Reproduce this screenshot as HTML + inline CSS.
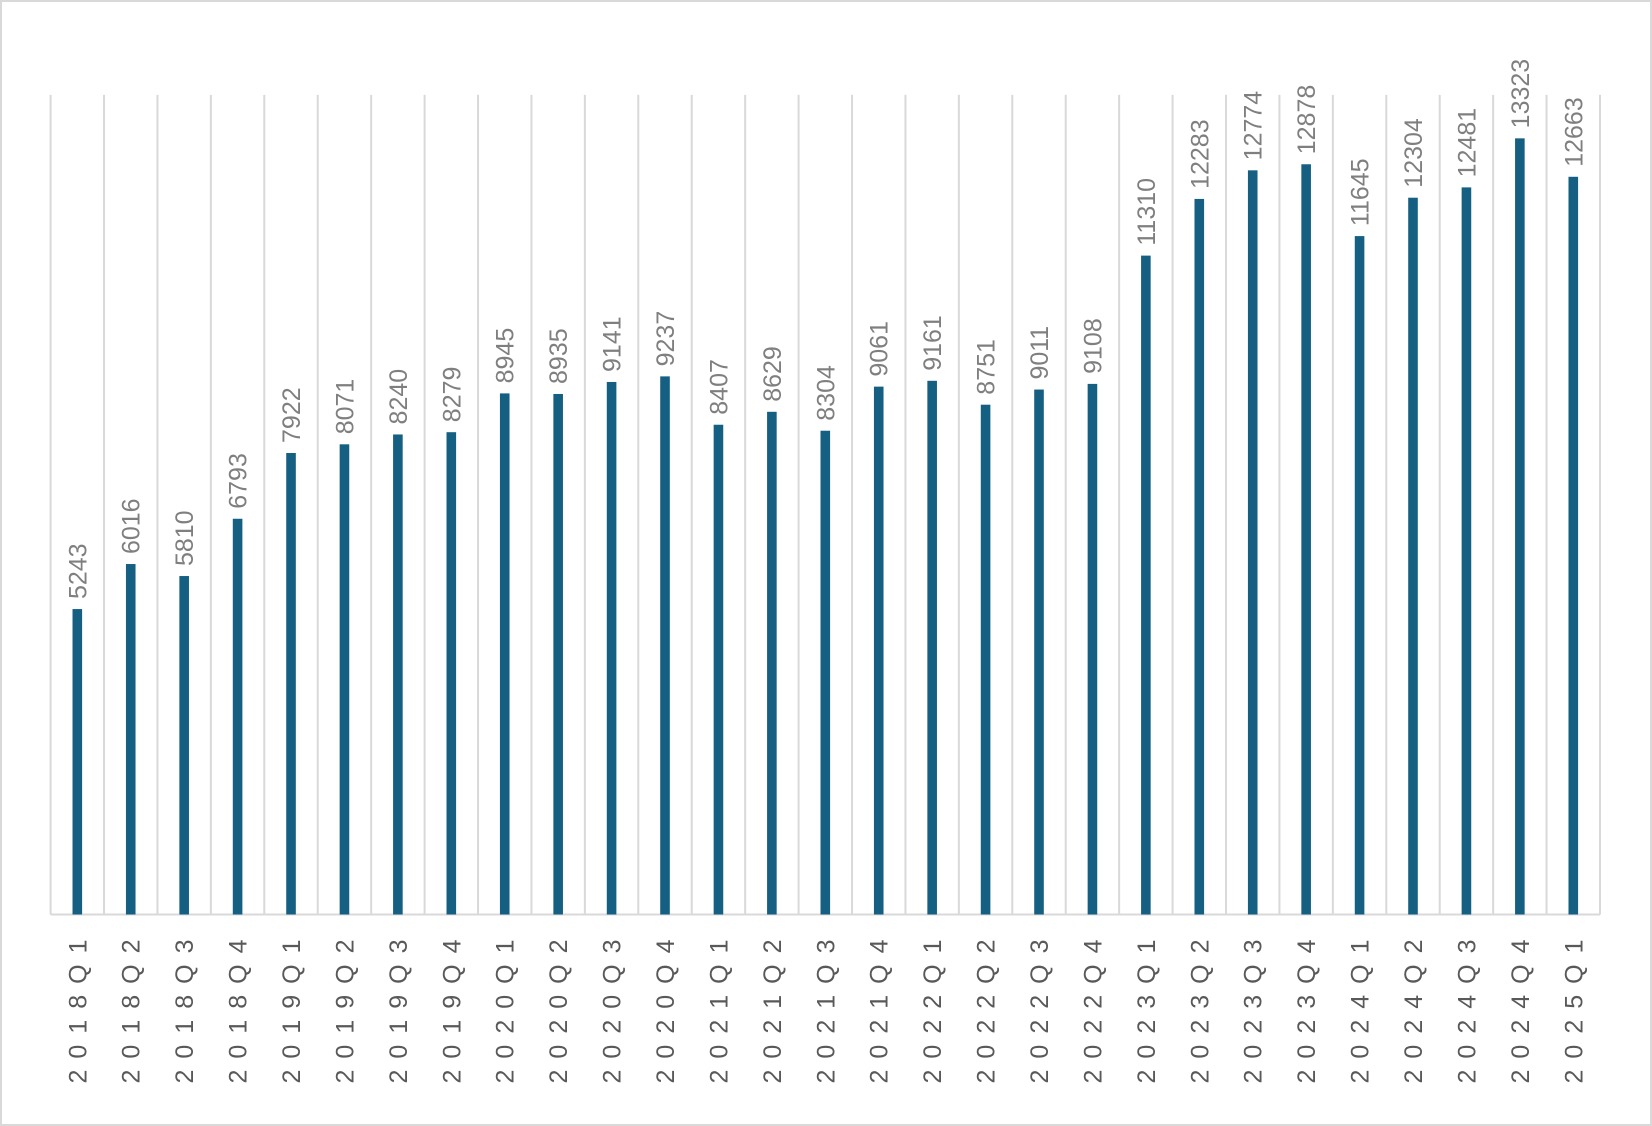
<!DOCTYPE html>
<html><head><meta charset="utf-8"><style>
html,body{margin:0;padding:0;background:#fff;}
svg{display:block;font-family:"Liberation Sans",sans-serif;}
</style></head><body>
<svg id="chart" width="1652" height="1126" viewBox="0 0 1652 1126">
<rect x="1" y="1" width="1650" height="1124" fill="#fff" stroke="#d9d9d9" stroke-width="2"/>
<g id="grid"></g><g id="bars"></g><g id="labels"></g><g id="cats"></g>
</svg>
<script>
const categories=["2018Q1","2018Q2","2018Q3","2018Q4","2019Q1","2019Q2","2019Q3","2019Q4","2020Q1","2020Q2","2020Q3","2020Q4","2021Q1","2021Q2","2021Q3","2021Q4","2022Q1","2022Q2","2022Q3","2022Q4","2023Q1","2023Q2","2023Q3","2023Q4","2024Q1","2024Q2","2024Q3","2024Q4","2025Q1"];
const values=[5243,6016,5810,6793,7922,8071,8240,8279,8945,8935,9141,9237,8407,8629,8304,9061,9161,8751,9011,9108,11310,12283,12774,12878,11645,12304,12481,13323,12663];
const yMax=14000;
const L=50.6,R=1600,B=914.5,T=98.9;
const ns="http://www.w3.org/2000/svg";
const n=categories.length,step=(R-L)/n;
const x=i=>L+step*(i+0.5);
const y=v=>B-(B-T)*v/yMax;
function mk(tag,attrs,parent){const e=document.createElementNS(ns,tag);for(const k in attrs)e.setAttribute(k,attrs[k]);document.getElementById(parent).appendChild(e);return e;}
for(let i=0;i<=n;i++){
 const g=mk("line",{x1:L+step*i,x2:L+step*i,y1:T-4,y2:B,stroke:"#d9d9d9","stroke-width":2},"grid");
 
 
}
const ax=mk("line",{x1:L,x2:R,y1:B,y2:B,stroke:"#d9d9d9","stroke-width":2},"grid");


values.forEach((v,i)=>{
 const b=mk("rect",{x:x(i)-4.8,y:y(v),width:9.6,height:B-y(v),fill:"#156082"},"bars");
 
 
 const t=mk("text",{x:0,y:0,transform:`translate(${x(i)+9},${y(v)-10}) rotate(-90)`,fill:"#7f7f7f","font-size":25},"labels");
 t.textContent=v;
 
 
 const c=mk("text",{x:0,y:0,transform:`translate(${x(i)+9},${B+14}) rotate(-90)`,fill:"#595959","font-size":25,"text-anchor":"end","letter-spacing":"11"},"cats");
 c.textContent=categories[i];
 
 
});
</script>
</body></html>
